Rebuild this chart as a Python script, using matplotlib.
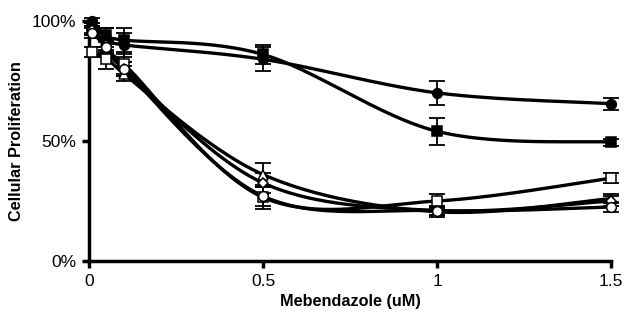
import numpy as np
import matplotlib
matplotlib.use("Agg")
import matplotlib.pyplot as plt

plt.rcParams['font.family'] = ['Liberation Sans', 'DejaVu Sans']

dose = [0.01, 0.05, 0.1, 0.5, 1.0, 1.5]

# mean proliferation (fraction) and error per series
filled_circle = [1.00, 0.93, 0.90, 0.84, 0.70, 0.655]
filled_circle_err = [0.01, 0.04, 0.05, 0.05, 0.05, 0.025]
filled_square = [0.97, 0.94, 0.92, 0.86, 0.54, 0.495]
filled_square_err = [0.02, 0.03, 0.05, 0.04, 0.055, 0.015]
open_square = [0.87, 0.84, 0.82, 0.265, 0.25, 0.345]
open_square_err = [0.02, 0.04, 0.04, 0.05, 0.03, 0.02]
open_triangle = [0.96, 0.89, 0.78, 0.36, 0.205, 0.26]
open_triangle_err = [0.02, 0.03, 0.03, 0.05, 0.02, 0.02]
open_diamond = [0.96, 0.90, 0.80, 0.325, 0.21, 0.25]
open_diamond_err = [0.02, 0.03, 0.03, 0.04, 0.02, 0.02]
open_circle = [0.95, 0.89, 0.80, 0.27, 0.21, 0.225]
open_circle_err = [0.02, 0.03, 0.03, 0.04, 0.02, 0.02]


def smooth(x, y, n=30):
    # Catmull-Rom style smoothing, like spreadsheet "smoothed line"
    x = np.asarray(x, float)
    y = np.asarray(y, float)
    px = np.concatenate([[x[0]], x, [x[-1]]])
    py = np.concatenate([[y[0]], y, [y[-1]]])
    xs, ys = [], []
    t = np.linspace(0, 1, n)
    for i in range(1, len(px) - 2):
        p0, p1, p2, p3 = (np.array([px[j], py[j]]) for j in range(i - 1, i + 3))
        c1 = p1 + (p2 - p0) / 6.0
        c2 = p2 - (p3 - p1) / 6.0
        b = ((1 - t)[:, None] ** 3 * p1 + 3 * ((1 - t) ** 2 * t)[:, None] * c1
             + 3 * ((1 - t) * t ** 2)[:, None] * c2 + (t ** 3)[:, None] * p2)
        xs.extend(b[:, 0])
        ys.extend(b[:, 1])
    return np.array(xs), np.array(ys)


fig = plt.figure(figsize=(6.24, 3.16), dpi=100)
ax = fig.add_axes([0.1426, 0.174, 0.837, 0.76])

series = [
    (filled_circle, filled_circle_err, 'o', 'black'),
    (filled_square, filled_square_err, 's', 'black'),
    (open_square, open_square_err, 's', 'white'),
    (open_triangle, open_triangle_err, '^', 'white'),
    (open_diamond, open_diamond_err, 'D', 'white'),
    (open_circle, open_circle_err, 'o', 'white'),
]

for vals, err, mk, fc in series:
    sx, sy = smooth(dose, vals)
    ax.plot(sx, sy, color='black', lw=2.4, clip_on=False, zorder=2)
    ax.errorbar(dose, vals, yerr=err, fmt='none', ecolor='black', elinewidth=1.3,
                capsize=5.5, capthick=1.3, clip_on=False, zorder=3)
    ms = 5.5 if mk == 'D' else 7
    ax.plot(dose, vals, linestyle='none', marker=mk, markersize=ms,
            markerfacecolor=fc, markeredgecolor='black', markeredgewidth=1.1,
            clip_on=False, zorder=4)

ax.set_xlim(0, 1.5)
ax.set_ylim(0, 1.0)
ax.set_xticks([0, 0.5, 1.0, 1.5])
ax.set_xticklabels(['0', '0.5', '1', '1.5'])
ax.set_yticks([0, 0.5, 1.0])
ax.set_yticklabels(['0%', '50%', '100%'])

for s in ['top', 'right']:
    ax.spines[s].set_visible(False)
for s in ['left', 'bottom']:
    ax.spines[s].set_linewidth(2.5)
ax.tick_params(axis='both', direction='out', length=5, width=2.5, labelsize=12.5, pad=4)

ax.set_xlabel('Mebendazole (uM)', fontsize=11.7, fontweight='bold', labelpad=4)
ax.set_ylabel('Cellular Proliferation', fontsize=11.7, fontweight='bold', labelpad=6)

fig.savefig('out.png', dpi=100)
